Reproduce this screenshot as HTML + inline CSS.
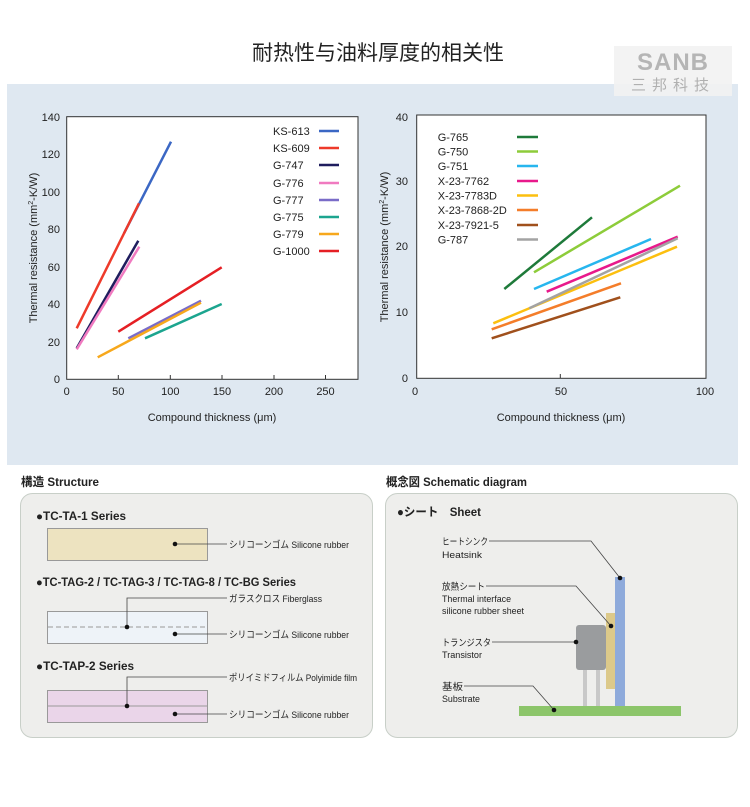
<!DOCTYPE html>
<html><head><meta charset="utf-8"><style>
html,body{margin:0;padding:0;background:#fff;width:750px;height:807px;overflow:hidden}
svg{display:block}
.t{font-family:"Liberation Sans",sans-serif;fill:#222}
.j{font-family:"Liberation Sans","Noto Sans CJK JP",sans-serif;fill:#222}
</style></head><body>
<svg width="750" height="807" viewBox="0 0 750 807" xmlns="http://www.w3.org/2000/svg">
<text x="378" y="60" text-anchor="middle" font-size="21" style="font-family:'Liberation Sans','Noto Sans CJK SC',sans-serif" fill="#222">耐热性与油料厚度的相关性</text>
<rect x="7" y="84" width="731" height="381" fill="#dfe8f1"/>
<!-- logo -->
<rect x="614" y="46" width="118" height="50" fill="#f2f2f2" opacity="0.9"/>
<text x="673" y="70" text-anchor="middle" font-size="24" font-weight="bold" fill="#b5b5b5" style="font-family:'Liberation Sans',sans-serif;letter-spacing:1px">SANB</text>
<text x="673" y="90" text-anchor="middle" font-size="15" fill="#b0b0b0" style="font-family:'Liberation Sans','Noto Sans CJK SC',sans-serif;letter-spacing:6px">三邦科技</text>

<!-- chart 1 -->
<rect x="66.7" y="116.7" width="291.3" height="262.6" fill="#fff" stroke="#333" stroke-width="1"/>
<g class="t" font-size="11" text-anchor="end">
<text x="60" y="383">0</text><text x="60" y="346">20</text><text x="60" y="308">40</text><text x="60" y="271">60</text><text x="60" y="233">80</text><text x="60" y="196">100</text><text x="60" y="158">120</text><text x="60" y="121">140</text>
</g>
<g class="t" font-size="11" text-anchor="middle">
<text x="66.7" y="395">0</text><text x="118.3" y="395">50</text><text x="170.3" y="395">100</text><text x="222" y="395">150</text><text x="274" y="395">200</text><text x="325.5" y="395">250</text>
<text x="212" y="421">Compound thickness (μm)</text>
</g>
<g stroke="#333" stroke-width="1">
<line x1="118.3" y1="379" x2="118.3" y2="375"/><line x1="170.3" y1="379" x2="170.3" y2="375"/><line x1="222" y1="379" x2="222" y2="375"/><line x1="274" y1="379" x2="274" y2="375"/><line x1="325.5" y1="379" x2="325.5" y2="375"/>
</g>
<text class="t" font-size="11" transform="translate(37,248) rotate(-90)" text-anchor="middle">Thermal resistance (mm<tspan font-size="7" dy="-4">2</tspan><tspan dy="4">-K/W)</tspan></text>
<g stroke-width="2.5" stroke-linecap="butt">
<line x1="124" y1="233.3" x2="171" y2="141.7" stroke="#3b67c4"/>
<line x1="76.7" y1="328.3" x2="139" y2="203.3" stroke="#ee3a2a"/>
<line x1="76.7" y1="348.3" x2="138.3" y2="240.7" stroke="#1f1d5e"/>
<line x1="76.7" y1="349.3" x2="139.3" y2="246.7" stroke="#f07ac0"/>
<line x1="128.3" y1="338.3" x2="201" y2="300.7" stroke="#7a6cc8"/>
<line x1="145" y1="338.3" x2="221.7" y2="304" stroke="#1ca58f"/>
<line x1="97.7" y1="357.3" x2="201" y2="302.7" stroke="#f7a81c"/>
<line x1="118.3" y1="331.7" x2="221.7" y2="267.3" stroke="#e51f24"/>
</g>
<g class="t" font-size="11">
<text x="273" y="135">KS-613</text><text x="273" y="152">KS-609</text><text x="273" y="169">G-747</text><text x="273" y="187">G-776</text><text x="273" y="204">G-777</text><text x="273" y="221">G-775</text><text x="273" y="238">G-779</text><text x="273" y="255">G-1000</text>
</g>
<g stroke-width="2.5">
<line x1="319" y1="131" x2="339" y2="131" stroke="#3b67c4"/>
<line x1="319" y1="148" x2="339" y2="148" stroke="#ee3a2a"/>
<line x1="319" y1="165" x2="339" y2="165" stroke="#1f1d5e"/>
<line x1="319" y1="183" x2="339" y2="183" stroke="#f07ac0"/>
<line x1="319" y1="200" x2="339" y2="200" stroke="#7a6cc8"/>
<line x1="319" y1="217" x2="339" y2="217" stroke="#1ca58f"/>
<line x1="319" y1="234" x2="339" y2="234" stroke="#f7a81c"/>
<line x1="319" y1="251" x2="339" y2="251" stroke="#e51f24"/>
</g>

<!-- chart 2 -->
<rect x="416.7" y="115" width="289.3" height="263.3" fill="#fff" stroke="#333" stroke-width="1"/>
<g class="t" font-size="11" text-anchor="end">
<text x="408" y="382">0</text><text x="408" y="316">10</text><text x="408" y="250">20</text><text x="408" y="185">30</text><text x="408" y="121">40</text>
</g>
<g class="t" font-size="11" text-anchor="middle">
<text x="415" y="395">0</text><text x="561" y="395">50</text><text x="705" y="395">100</text>
<text x="561" y="421">Compound thickness (μm)</text>
</g>
<line x1="560.3" y1="378" x2="560.3" y2="374" stroke="#333"/>
<text class="t" font-size="11" transform="translate(388,247) rotate(-90)" text-anchor="middle">Thermal resistance (mm<tspan font-size="7" dy="-4">2</tspan><tspan dy="4">-K/W)</tspan></text>
<g stroke-width="2.5">
<line x1="504.3" y1="289" x2="592" y2="217.3" stroke="#1e7a3a"/>
<line x1="534" y1="272.3" x2="680" y2="185.7" stroke="#8dcc3a"/>
<line x1="534" y1="289" x2="651" y2="239" stroke="#27b6ee"/>
<line x1="546.7" y1="291.7" x2="677.7" y2="236.7" stroke="#e8198b"/>
<line x1="493.3" y1="323.3" x2="677" y2="246.7" stroke="#fcbf0f"/>
<line x1="491.7" y1="329.3" x2="621" y2="283.3" stroke="#f47d2a"/>
<line x1="491.7" y1="338.3" x2="620.3" y2="297.3" stroke="#a0501c"/>
<line x1="529.3" y1="308.3" x2="677.7" y2="238.3" stroke="#a3a3a3"/>
</g>
<g class="t" font-size="11">
<text x="437.7" y="141">G-765</text><text x="437.7" y="155.5">G-750</text><text x="437.7" y="170">G-751</text><text x="437.7" y="185">X-23-7762</text><text x="437.7" y="199.5">X-23-7783D</text><text x="437.7" y="214">X-23-7868-2D</text><text x="437.7" y="229">X-23-7921-5</text><text x="437.7" y="243.5">G-787</text>
</g>
<g stroke-width="2.5">
<line x1="517" y1="137" x2="538" y2="137" stroke="#1e7a3a"/>
<line x1="517" y1="151.5" x2="538" y2="151.5" stroke="#8dcc3a"/>
<line x1="517" y1="166" x2="538" y2="166" stroke="#27b6ee"/>
<line x1="517" y1="181" x2="538" y2="181" stroke="#e8198b"/>
<line x1="517" y1="195.5" x2="538" y2="195.5" stroke="#fcbf0f"/>
<line x1="517" y1="210" x2="538" y2="210" stroke="#f47d2a"/>
<line x1="517" y1="225" x2="538" y2="225" stroke="#a0501c"/>
<line x1="517" y1="239.5" x2="538" y2="239.5" stroke="#a3a3a3"/>
</g>

<!-- bottom headings -->
<text class="j" x="21" y="486" font-size="12" font-weight="bold" textLength="78" lengthAdjust="spacingAndGlyphs">構造 Structure</text>
<text class="j" x="386" y="486" font-size="12" font-weight="bold" textLength="141" lengthAdjust="spacingAndGlyphs">概念図 Schematic diagram</text>
<rect x="20.5" y="493.5" width="352" height="244" rx="12" fill="#eeeeec" stroke="#c8cfc8"/>
<rect x="385.5" y="493.5" width="352" height="244" rx="12" fill="#eeeeec" stroke="#c8cfc8"/>

<!-- structure -->
<g class="j" font-size="11.5" font-weight="bold">
<text x="36" y="520" textLength="90" lengthAdjust="spacingAndGlyphs">●TC-TA-1 Series</text>
<text x="36" y="586" textLength="260" lengthAdjust="spacingAndGlyphs">●TC-TAG-2 / TC-TAG-3 / TC-TAG-8 / TC-BG Series</text>
<text x="36" y="670" textLength="98" lengthAdjust="spacingAndGlyphs">●TC-TAP-2 Series</text>
</g>
<rect x="47.5" y="528.5" width="160" height="32" fill="#ede3c0" stroke="#999"/>
<rect x="47.5" y="611.5" width="160" height="32" fill="#eef3f8" stroke="#999"/>
<line x1="48" y1="627" x2="207" y2="627" stroke="#999" stroke-dasharray="5,3"/>
<rect x="47.5" y="690.5" width="160" height="32" fill="#ead5e9" stroke="#999"/>
<line x1="48" y1="706" x2="207" y2="706" stroke="#999"/>
<g stroke="#444" stroke-width="0.8" fill="none">
<line x1="175" y1="544" x2="227" y2="544"/>
<polyline points="127,627 127,598 227,598"/>
<line x1="175" y1="634" x2="227" y2="634"/>
<polyline points="127,706 127,677 227,677"/>
<line x1="175" y1="714" x2="227" y2="714"/>
</g>
<g fill="#111"><circle cx="175" cy="544" r="2.3"/><circle cx="127" cy="627" r="2.3"/><circle cx="175" cy="634" r="2.3"/><circle cx="127" cy="706" r="2.3"/><circle cx="175" cy="714" r="2.3"/></g>
<g class="j" font-size="9.5">
<text x="229" y="548" textLength="120" lengthAdjust="spacingAndGlyphs">シリコーンゴム Silicone rubber</text>
<text x="229" y="602" textLength="93" lengthAdjust="spacingAndGlyphs">ガラスクロス Fiberglass</text>
<text x="229" y="638" textLength="120" lengthAdjust="spacingAndGlyphs">シリコーンゴム Silicone rubber</text>
<text x="229" y="681" textLength="128" lengthAdjust="spacingAndGlyphs">ポリイミドフィルム Polyimide film</text>
<text x="229" y="718" textLength="120" lengthAdjust="spacingAndGlyphs">シリコーンゴム Silicone rubber</text>
</g>

<!-- schematic -->
<text class="j" x="397" y="516" font-size="12" font-weight="bold" textLength="84" lengthAdjust="spacingAndGlyphs">●シート　Sheet</text>
<rect x="615" y="577" width="10" height="129" fill="#8eaadb"/>
<rect x="606" y="613" width="9" height="76" fill="#dcc98a"/>
<rect x="583" y="670" width="4" height="36" fill="#c8c8c8"/>
<rect x="596" y="670" width="4" height="36" fill="#c8c8c8"/>
<rect x="576" y="625" width="30" height="45" rx="3" fill="#9a9c9e"/>
<rect x="519" y="706" width="162" height="10" fill="#8cc56a"/>
<g stroke="#444" stroke-width="0.8" fill="none">
<polyline points="489,541 591,541 620,578"/>
<polyline points="486,586 576,586 611,626"/>
<line x1="492" y1="642" x2="576" y2="642"/>
<polyline points="464,686 533,686 554,710"/>
</g>
<g fill="#111"><circle cx="620" cy="578" r="2.3"/><circle cx="611" cy="626" r="2.3"/><circle cx="576" cy="642" r="2.3"/><circle cx="554" cy="710" r="2.3"/></g>
<g class="j" font-size="9.5">
<text x="442" y="545" textLength="46" lengthAdjust="spacingAndGlyphs">ヒートシンク</text><text x="442" y="558" textLength="40" lengthAdjust="spacingAndGlyphs">Heatsink</text>
<text x="442" y="590" textLength="43" lengthAdjust="spacingAndGlyphs">放熱シート</text><text x="442" y="602" textLength="69" lengthAdjust="spacingAndGlyphs">Thermal interface</text><text x="442" y="614" textLength="82" lengthAdjust="spacingAndGlyphs">silicone rubber sheet</text>
<text x="442" y="646" textLength="49" lengthAdjust="spacingAndGlyphs">トランジスタ</text><text x="442" y="658" textLength="40" lengthAdjust="spacingAndGlyphs">Transistor</text>
<text x="442" y="690" textLength="21" lengthAdjust="spacingAndGlyphs">基板</text><text x="442" y="702" textLength="38" lengthAdjust="spacingAndGlyphs">Substrate</text>
</g>
</svg>
</body></html>
